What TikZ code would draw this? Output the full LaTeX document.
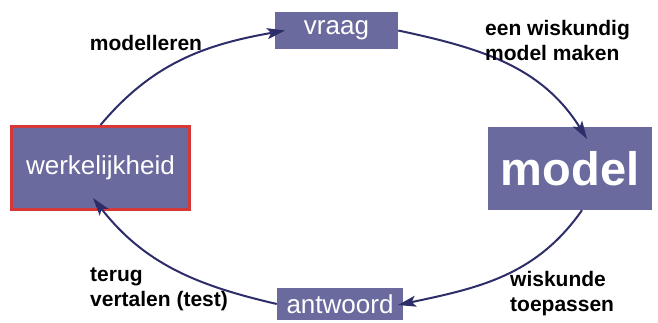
\documentclass[tikz,border=0pt]{standalone}
\usepackage{fontspec}
\setmainfont{Liberation Sans}
\usetikzlibrary{arrows.meta}
\definecolor{boxfill}{RGB}{106,106,158}
\definecolor{arrowc}{RGB}{45,45,105}
\definecolor{redb}{RGB}{214,56,56}
\tikzset{
  box/.style={fill=boxfill, draw=none, text=white, inner sep=0pt, font=\fontsize{26}{30}\selectfont},
  lab/.style={align=left, inner sep=0pt, font=\bfseries\fontsize{21}{25}\selectfont},
  arr/.style={draw=arrowc, line width=2pt, -{Stealth[length=18pt,width=11pt,inset=4pt]}, arrowc}
}
\begin{document}
\begin{tikzpicture}[x=1pt,y=1pt]
\useasboundingbox (0,0) rectangle (658,322);
\node[box, minimum width=123pt, minimum height=37pt] (vraag) at (336.5,291.5) {vraag};
\node[box, draw=redb, line width=3pt, minimum width=178pt, minimum height=83pt] (werk) at (100.5,154) {werkelijkheid};
\node[box, minimum width=164pt, minimum height=83pt, font=\bfseries\fontsize{47}{52}\selectfont] (model) at (570,153.5) {model};
\node[box, minimum width=126pt, minimum height=32pt] (antw) at (340,18) {antwoord};
\coordinate (t1) at (285,291.5);
\coordinate (t2) at (587,183);
\coordinate (t3) at (398,17);
\coordinate (t4) at (93,124);
\draw[arr] (werk.north) to[out=50,in=190] (t1);
\draw[arr] (vraag.east) to[out=-12,in=122] (t2);
\draw[arr] ([xshift=12pt]model.south) to[out=-125,in=12] (t3);
\draw[arr] (antw.west) to[out=167,in=-52] (t4);
\node[lab] (l1) at (146,279) {modelleren};
\node[lab, anchor=north west] (l2) at (485,302) {een wiskundig\\model maken};
\node[lab, anchor=north west] (l3) at (510,51) {wiskunde\\toepassen};
\node[lab, anchor=north west] (l4) at (90,54) {terug\\vertalen (test)};
\end{tikzpicture}
\end{document}
